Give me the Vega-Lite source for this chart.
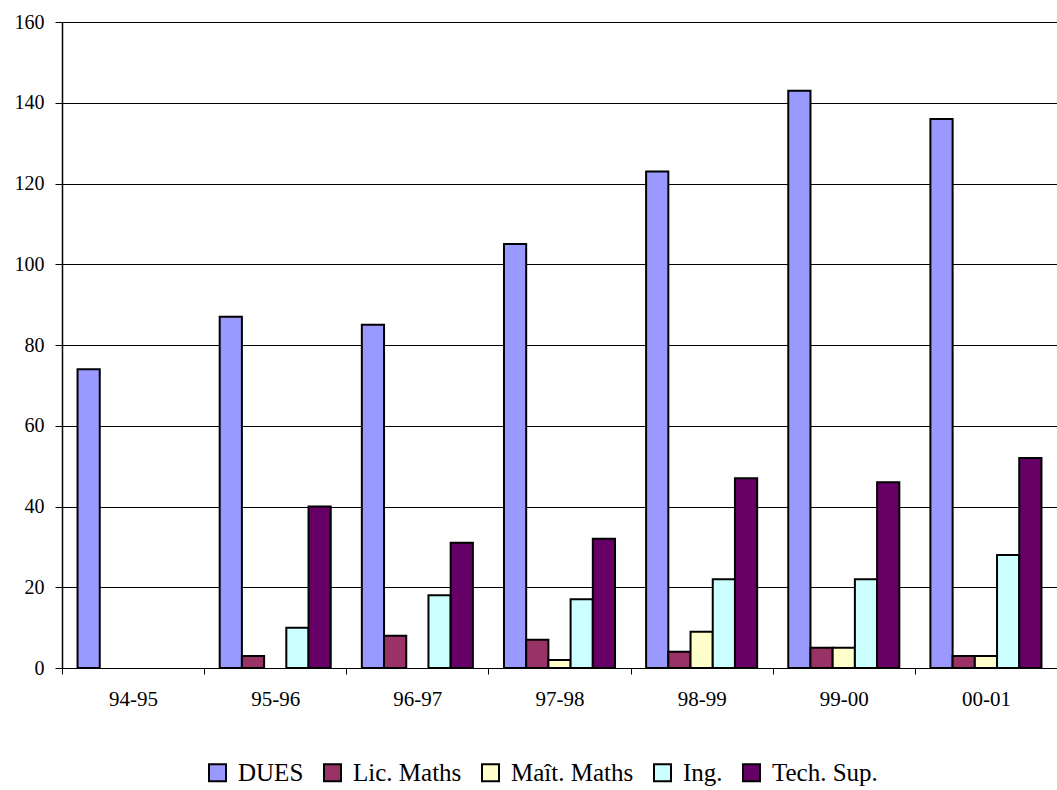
{
  "$schema": "https://vega.github.io/schema/vega-lite/v6.json",
  "width": 995,
  "height": 646,
  "autosize": {"type": "none"},
  "padding": {"left": 62, "top": 22, "right": 0, "bottom": 122},
  "background": "white",
  "config": {
    "font": "Times New Roman, Liberation Serif, serif",
    "view": {"stroke": null}
  },
  "data": {
    "values": [
      {"year": "94-95", "series": "DUES", "value": 74},
      {"year": "95-96", "series": "DUES", "value": 87},
      {"year": "95-96", "series": "Lic. Maths", "value": 3},
      {"year": "95-96", "series": "Ing.", "value": 10},
      {"year": "95-96", "series": "Tech. Sup.", "value": 40},
      {"year": "96-97", "series": "DUES", "value": 85},
      {"year": "96-97", "series": "Lic. Maths", "value": 8},
      {"year": "96-97", "series": "Ing.", "value": 18},
      {"year": "96-97", "series": "Tech. Sup.", "value": 31},
      {"year": "97-98", "series": "DUES", "value": 105},
      {"year": "97-98", "series": "Lic. Maths", "value": 7},
      {"year": "97-98", "series": "Maît. Maths", "value": 2},
      {"year": "97-98", "series": "Ing.", "value": 17},
      {"year": "97-98", "series": "Tech. Sup.", "value": 32},
      {"year": "98-99", "series": "DUES", "value": 123},
      {"year": "98-99", "series": "Lic. Maths", "value": 4},
      {"year": "98-99", "series": "Maît. Maths", "value": 9},
      {"year": "98-99", "series": "Ing.", "value": 22},
      {"year": "98-99", "series": "Tech. Sup.", "value": 47},
      {"year": "99-00", "series": "DUES", "value": 143},
      {"year": "99-00", "series": "Lic. Maths", "value": 5},
      {"year": "99-00", "series": "Maît. Maths", "value": 5},
      {"year": "99-00", "series": "Ing.", "value": 22},
      {"year": "99-00", "series": "Tech. Sup.", "value": 46},
      {"year": "00-01", "series": "DUES", "value": 136},
      {"year": "00-01", "series": "Lic. Maths", "value": 3},
      {"year": "00-01", "series": "Maît. Maths", "value": 3},
      {"year": "00-01", "series": "Ing.", "value": 28},
      {"year": "00-01", "series": "Tech. Sup.", "value": 52}
    ]
  },
  "layer": [
    {
      "mark": {"type": "bar", "stroke": "black", "strokeWidth": 2},
      "encoding": {
        "x": {
          "field": "year", "type": "nominal", "sort": null,
          "scale": {"paddingInner": 0, "paddingOuter": 0},
          "axis": {"title": null, "labelAngle": 0, "ticks": true, "tickBand": "extent", "tickSize": 6, "tickColor": "black", "labelPadding": 14, "domainColor": "black", "domainWidth": 1, "labelFont": "Times New Roman, Liberation Serif, serif", "labelFontSize": 21, "labelColor": "black"}
        },
        "xOffset": {
          "field": "series", "type": "nominal",
          "sort": ["DUES", "Lic. Maths", "Maît. Maths", "Ing.", "Tech. Sup."],
          "scale": {"domain": ["DUES", "Lic. Maths", "Maît. Maths", "Ing.", "Tech. Sup."], "paddingInner": 0, "paddingOuter": 0.7}
        },
        "y": {
          "field": "value", "type": "quantitative",
          "scale": {"domain": [0, 160], "nice": false},
          "axis": {"title": null, "values": [0, 20, 40, 60, 80, 100, 120, 140, 160], "labelOverlap": false, "grid": true, "gridColor": "black", "gridWidth": 1, "gridOpacity": 1, "domainColor": "black", "domainWidth": 1.5, "tickColor": "black", "tickSize": 7, "labelPadding": 11, "labelFont": "Times New Roman, Liberation Serif, serif", "labelFontSize": 20, "labelColor": "black"}
        },
        "color": {
          "field": "series", "type": "nominal",
          "sort": ["DUES", "Lic. Maths", "Maît. Maths", "Ing.", "Tech. Sup."],
          "scale": {
            "domain": ["DUES", "Lic. Maths", "Maît. Maths", "Ing.", "Tech. Sup."],
            "range": ["#9999FF", "#993366", "#FFFFCC", "#CCFFFF", "#660066"]
          },
          "legend": {
            "title": null, "orient": "none", "direction": "horizontal",
            "legendX": 143, "legendY": 738,
            "symbolType": "square", "symbolSize": 289, "symbolStrokeColor": "black", "symbolStrokeWidth": 2,
            "columnPadding": 16, "labelOffset": 8,
            "labelFont": "Times New Roman, Liberation Serif, serif", "labelFontSize": 25, "labelColor": "black"
          }
        }
      }
    }
  ]
}
